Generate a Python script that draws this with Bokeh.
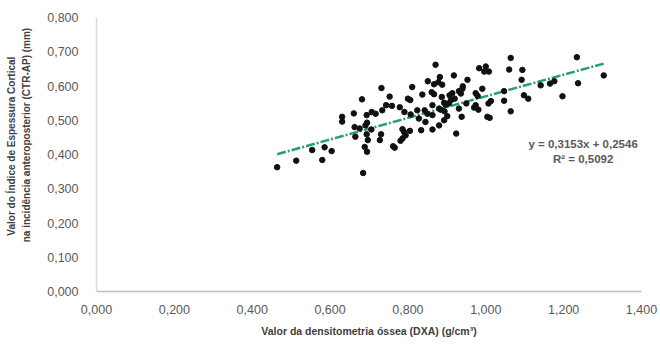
from bokeh.plotting import figure
from bokeh.models import ColumnDataSource, Label, Range1d, FixedTicker, LinearAxis
from bokeh.embed import file_html
from bokeh.resources import INLINE

# --- data ---
dxa = [0.464, 0.513, 0.554, 0.586, 0.604, 0.580, 0.631, 0.631, 0.661, 0.665,
       0.685, 0.732, 0.811, 0.851, 0.682, 0.753, 0.800, 0.806, 0.837, 0.861,
       0.694, 0.707, 0.717, 0.734, 0.744, 0.759, 0.779, 0.791, 0.807, 0.824,
       0.843, 0.828, 0.845, 0.663, 0.676, 0.691, 0.695, 0.706, 0.694, 0.731,
       0.786, 0.790, 0.794, 0.805, 0.834, 0.697, 0.728, 0.786, 0.781, 0.689,
       0.695, 0.762, 0.766, 0.871, 0.983, 1.000, 0.996, 1.008, 0.882, 0.918,
       0.878, 0.888, 0.953, 0.941, 0.867, 0.887, 0.907, 0.914, 0.931, 0.936,
       0.974, 0.979, 0.910, 0.905, 0.897, 0.893, 0.950, 0.974, 0.981, 1.007,
       1.013, 1.047, 0.863, 0.880, 0.894, 0.931, 0.901, 0.938, 0.850, 0.863,
       0.880, 1.004, 1.010, 0.924, 1.064, 1.234, 1.060, 1.094, 1.092, 1.303,
       1.141, 1.165, 1.176, 1.237, 1.047, 1.098, 1.109, 1.197, 1.064, 0.991,
       0.940, 0.970, 0.920, 0.867, 0.884, 0.893, 0.863]
ctr = [0.363, 0.382, 0.413, 0.421, 0.410, 0.384, 0.510, 0.496, 0.520, 0.452,
       0.346, 0.594, 0.597, 0.614, 0.561, 0.569, 0.563, 0.559, 0.575, 0.582,
       0.515, 0.524, 0.519, 0.529, 0.544, 0.542, 0.538, 0.524, 0.517, 0.529,
       0.529, 0.505, 0.495, 0.480, 0.476, 0.485, 0.493, 0.473, 0.459, 0.459,
       0.474, 0.466, 0.456, 0.469, 0.471, 0.442, 0.442, 0.447, 0.440, 0.422,
       0.408, 0.424, 0.420, 0.662, 0.652, 0.657, 0.642, 0.642, 0.626, 0.631,
       0.611, 0.604, 0.618, 0.599, 0.576, 0.568, 0.573, 0.579, 0.585, 0.578,
       0.579, 0.571, 0.558, 0.549, 0.545, 0.551, 0.549, 0.544, 0.531, 0.549,
       0.556, 0.557, 0.544, 0.534, 0.526, 0.534, 0.512, 0.510, 0.519, 0.473,
       0.485, 0.510, 0.507, 0.461, 0.682, 0.684, 0.648, 0.647, 0.618, 0.631,
       0.602, 0.607, 0.614, 0.608, 0.585, 0.573, 0.563, 0.570, 0.526, 0.592,
       0.592, 0.537, 0.563, 0.605, 0.531, 0.500, 0.515]

slope = 0.3153
intercept = 0.2546
r2 = 0.5092

x_ticks = [0.0, 0.2, 0.4, 0.6, 0.8, 1.0, 1.2, 1.4]
y_ticks = [0.0, 0.1, 0.2, 0.3, 0.4, 0.5, 0.6, 0.7, 0.8]
x_tick_labels = ["0,000", "0,200", "0,400", "0,600", "0,800", "1,000", "1,200", "1,400"]
y_tick_labels = ["0,000", "0,100", "0,200", "0,300", "0,400", "0,500", "0,600", "0,700", "0,800"]

x_title = "Valor da densitometria óssea (DXA) (g/cm³)"
y_title_1 = "Valor do Índice de Espessura Cortical"
y_title_2 = "na incidência anteroposterior (CTR-AP) (mm)"
eq_text = "y = 0,3153x + 0,2546"
r2_text = "R² = 0,5092"

FONT = "Liberation Sans"
TICK_COL = "#595959"
TITLE_COL = "#404040"
PAD1 = "\u00a0" * 6   # lifts the rotated titles above the frame centre
PAD2 = "\u00a0" * 14

p = figure(width=660, height=350, output_backend="svg", toolbar_location=None,
           x_range=Range1d(0, 1.4), y_range=Range1d(0, 0.8),
           min_border_left=96, min_border_right=19, min_border_top=17,
           min_border_bottom=59)
p.outline_line_color = None
p.background_fill_color = "white"
p.border_fill_color = "white"
p.grid.visible = False

# axes
p.xaxis.ticker = FixedTicker(ticks=x_ticks)
p.xaxis.major_label_overrides = {t: l for t, l in zip(x_ticks, x_tick_labels)}
p.yaxis.ticker = FixedTicker(ticks=y_ticks)
p.yaxis.major_label_overrides = {t: l for t, l in zip(y_ticks, y_tick_labels)}
for ax in (p.xaxis, p.yaxis):
    ax.axis_line_color = "#bfbfbf"
    ax.axis_line_width = 1.5
    ax.major_tick_line_color = None
    ax.minor_tick_line_color = None
    ax.major_label_text_font = FONT
    ax.major_label_text_font_size = "12.5px"
    ax.major_label_text_color = TICK_COL
p.xaxis.major_label_standoff = 7
p.yaxis.major_label_standoff = 12
p.yaxis.axis_line_color = "#d9d9d9"

p.xaxis.axis_label = x_title
p.xaxis.axis_label_text_font = FONT
p.xaxis.axis_label_text_font_style = "bold"
p.xaxis.axis_label_text_font_size = "10.5px"
p.xaxis.axis_label_text_color = TITLE_COL
p.xaxis.axis_label_standoff = 8

# y title: second line on the main y axis, first line on an extra bare axis
p.yaxis.axis_label = PAD2 + y_title_2
p.yaxis.axis_label_text_font = FONT
p.yaxis.axis_label_text_font_style = "bold"
p.yaxis.axis_label_text_font_size = "10px"
p.yaxis.axis_label_text_color = TITLE_COL
p.yaxis.axis_label_standoff = 12

extra = LinearAxis(ticker=FixedTicker(ticks=[]), axis_label=PAD1 + y_title_1,
                   axis_line_color=None, major_tick_line_color=None,
                   minor_tick_line_color=None, major_label_standoff=0,
                   major_label_text_font_size="1px",
                   axis_label_standoff=2, axis_label_text_font=FONT,
                   axis_label_text_font_style="bold",
                   axis_label_text_font_size="10px",
                   axis_label_text_color=TITLE_COL)
p.add_layout(extra, "left")

# trend line
x0, x1 = min(dxa), max(dxa)
src_line = ColumnDataSource(dict(x=[x0, x1],
                                 y=[slope * x0 + intercept, slope * x1 + intercept]))
p.line("x", "y", source=src_line, line_color="#2a9d78", line_width=2.5,
       line_dash="9 2 2 2")

# points
src = ColumnDataSource(dict(x=dxa, y=ctr))
p.scatter("x", "y", source=src, size=5.5, fill_color="#111111",
          line_color="#111111")

# equation
p.add_layout(Label(x=1.250, y=0.432, text=eq_text, text_align="center",
                   text_baseline="middle", text_font=FONT,
                   text_font_style="bold", text_font_size="11.5px",
                   text_color=TICK_COL))
p.add_layout(Label(x=1.250, y=0.388, text=r2_text, text_align="center",
                   text_baseline="middle", text_font=FONT,
                   text_font_style="bold", text_font_size="11.5px",
                   text_color=TICK_COL))

open("out.html", "w").write(file_html(p, INLINE))
